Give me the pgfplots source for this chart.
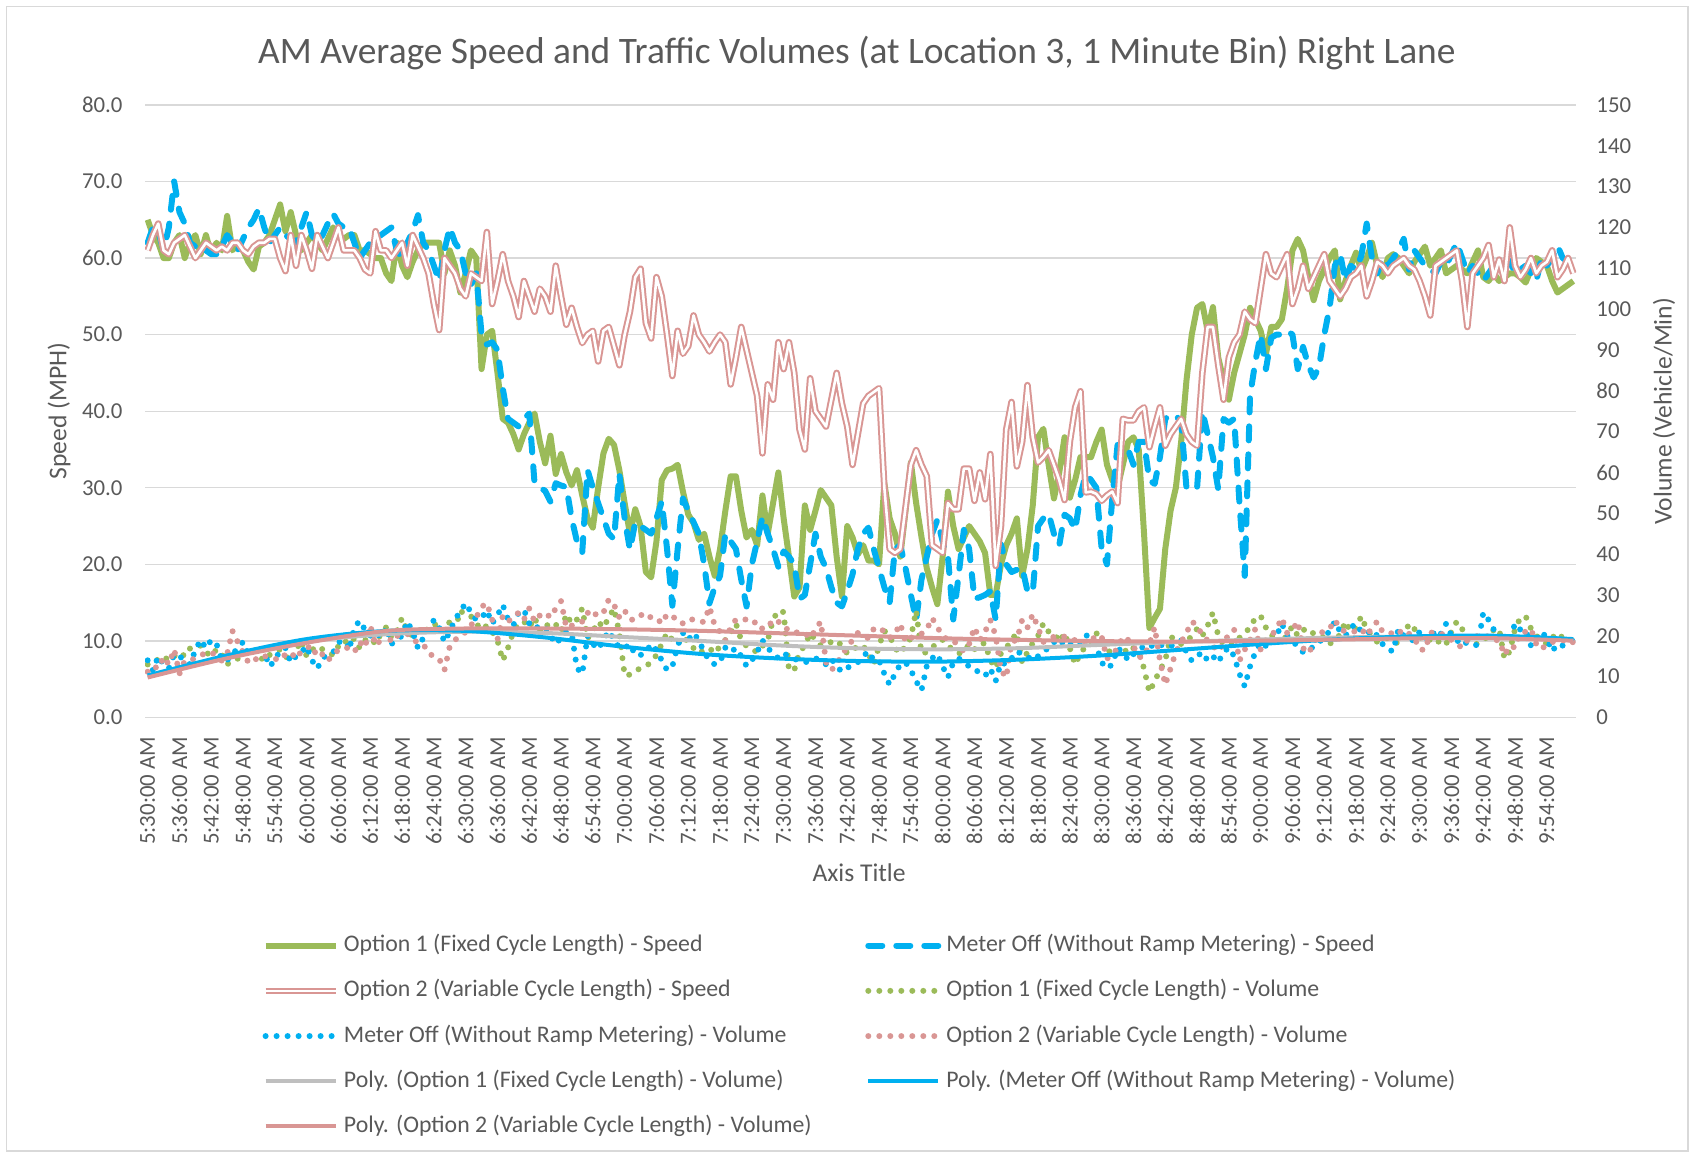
\documentclass[border=0pt]{standalone}
\usepackage{pgfplots}
\pgfplotsset{compat=1.18}
\usepackage{pgfplotstable}
\usepackage{fontspec}
\setmainfont{Carlito}
\definecolor{cgreen}{HTML}{9BBB59}
\definecolor{cblue}{HTML}{00B0F0}
\definecolor{cpink}{HTML}{D99694}
\definecolor{cgray}{HTML}{BFBFBF}
\definecolor{ctext}{HTML}{595959}
\definecolor{cgrid}{HTML}{D9D9D9}

% Option 1 (Fixed Cycle Length) - Speed, one value per minute from 5:30
\pgfplotstableread[row sep=\\]{v\\
65\\63\\62\\60\\60\\62\\ 63\\60\\62\\63\\60.5\\63\\ 60.5\\62\\61\\65.5\\61\\62\\ 61\\59.5\\58.5\\61.5\\62\\63\\
65\\67\\63.5\\66\\63\\61\\ 62\\63\\62\\61\\62.5\\64\\ 63\\62.5\\63\\63\\61\\61\\ 60.5\\60\\60\\58\\57\\62\\
59\\57.5\\59.5\\61\\62\\62\\ 62\\62\\58\\61\\59\\55.5\\ 58\\61\\60\\45.5\\50\\50.5\\ 45\\39\\38.5\\37\\35\\37\\
38.5\\39.7\\36\\33.2\\36.8\\31.8\\ 34.4\\32\\30.3\\32.3\\29\\26\\ 24.8\\30\\34.5\\36.4\\35.6\\32.3\\ 28\\24\\27.2\\25\\19\\18.3\\
23\\31\\32.3\\32.5\\33\\29.5\\ 26.5\\25.4\\23.2\\24\\21\\18.5\\ 22\\27\\31.5\\31.5\\27\\23.5\\ 24.5\\22.5\\29\\24\\28\\32\\
26\\21\\15.8\\17\\27.7\\24.5\\ 27\\29.7\\28.7\\27.7\\21\\15.8\\ 25\\23.5\\21.3\\22.5\\20.5\\20.5\\ 20\\30.6\\26\\24\\21\\27\\
33.3\\28\\23.6\\19.5\\17\\14.8\\ 21\\29.5\\25\\22\\23.5\\25\\ 24\\23\\21.5\\16\\16\\20\\ 22.5\\24\\26\\18.5\\22\\27.7\\
36.6\\37.7\\33\\28.6\\32\\36.6\\ 28.7\\31\\34\\34\\34\\36\\ 37.6\\33\\31\\30\\33\\36\\ 36.6\\35\\24\\11.7\\13\\14.2\\
22\\27\\30\\36\\44\\50\\ 53.5\\54\\50.5\\53.6\\47\\44\\ 41.5\\45\\47.5\\50\\53.5\\52\\ 50.5\\47.5\\51\\51\\52\\56\\
61\\62.5\\61\\57.5\\54.5\\57\\ 58.5\\60\\61\\54.6\\57\\59\\ 60.7\\58.3\\60\\62\\59\\57.5\\ 60\\60.5\\60\\59\\58\\59.5\\
60.5\\61.5\\59\\60\\61\\58\\ 58.5\\59\\58.5\\58\\59.5\\61\\ 57.5\\57\\58\\57\\57.5\\58\\ 58\\57.5\\56.8\\58.5\\60\\59.5\\
59\\57\\55.5\\56\\56.5\\57\\
}\gsp

% Meter Off (Without Ramp Metering) - Speed
\pgfplotstableread[row sep=\\]{v\\
62\\64\\63.5\\61\\64\\70\\ 66\\64.5\\62\\61.5\\62\\61\\ 60.5\\60.5\\61.5\\63\\62\\61\\ 62.5\\64\\65\\66.5\\64\\62\\
63\\64\\63\\62.5\\62\\64\\ 66\\63\\62\\63\\64.5\\65.8\\ 64.5\\64\\64\\62\\60\\61\\ 62\\62.5\\63\\63.5\\64\\61\\
60\\62\\63.5\\65.6\\62\\61\\ 59\\57\\61\\64\\62\\61\\ 58\\56.5\\58\\50\\48.7\\49\\ 48\\43\\39\\38.5\\38\\39\\
39.7\\30.6\\30\\29.6\\28.2\\30.6\\ 30.3\\30.1\\26\\23\\21.6\\32.3\\ 30\\28\\26\\24\\23.3\\31.8\\ 26\\21.9\\25.5\\25\\24.5\\24\\
26\\28.2\\22\\14.6\\22\\28.6\\ 27\\25.5\\24\\20\\14.9\\17\\ 18.5\\24\\23\\22\\18\\14.5\\ 20\\23\\26.2\\24\\22\\19.7\\
21.7\\21\\20\\15.5\\16\\20\\ 24\\21\\19.5\\17\\15\\14.5\\ 16.5\\18.7\\22\\24\\24.8\\22\\ 19.5\\17\\15\\22\\22.5\\19.5\\
16\\12.7\\18\\21\\24\\25.8\\ 23\\21\\12.8\\18.5\\24.5\\22\\ 15.5\\15.7\\16\\16.5\\12.8\\22.6\\ 20\\19\\19.3\\19.6\\16.5\\16.3\\
25\\26\\26.6\\24\\22.5\\26.5\\ 26\\24.5\\29\\31.8\\31\\30\\ 22\\20\\28.5\\35.6\\35.5\\35\\ 33\\36\\36\\31\\30.5\\34\\
39\\39.5\\39.5\\38.5\\30\\29.8\\ 29.9\\40\\37\\34\\29.8\\39\\ 38.5\\39\\28\\18.5\\42\\46.5\\ 50\\45.5\\49.6\\50\\50\\50.5\\
50\\45.5\\48.4\\46\\44.4\\45.7\\ 50\\53.5\\59\\60.5\\57\\59\\ 58.5\\60.3\\64.5\\60\\58\\60\\ 59\\60\\61\\62.5\\58.5\\61\\
60\\59\\58.5\\58\\59.5\\59\\ 60.5\\62\\60\\58\\59\\58\\ 57\\58\\59\\58.5\\59\\59.6\\ 58\\58.5\\59\\58\\57\\60\\
59\\60\\61.6\\60\\59.5\\60.5\\
}\bsp

% Option 2 (Variable Cycle Length) - Speed
\pgfplotstableread[row sep=\\]{v\\
61\\63\\64.5\\61\\60.5\\62\\ 62.5\\63\\61.5\\60\\61\\62\\ 61.5\\61\\61.5\\61\\62\\62\\ 61\\60.5\\61.5\\62\\62\\62.5\\
62.5\\60\\58.3\\63\\59\\63\\ 61\\58.6\\63\\61.5\\60\\62\\ 64\\61\\61\\61\\60\\58.5\\ 58\\63.5\\61\\61\\60\\61\\
62\\59\\63\\61.5\\60\\58\\ 54\\50.6\\60\\59\\58\\56\\ 55\\58\\57.5\\57\\63.4\\54\\ 57\\60.5\\57\\55\\52.3\\57\\
55\\53\\56\\55\\53\\59\\ 55\\51.3\\53.5\\51\\48.9\\50\\ 50.5\\46.5\\50.5\\51\\48.5\\46\\ 50\\53\\57.5\\58.6\\51.5\\49.5\\
57.5\\55\\50\\44.6\\50.5\\47.5\\ 48.5\\52.5\\50\\49\\47.8\\49\\ 50\\49\\43.5\\47\\51\\48\\ 45\\42\\34.5\\43.5\\41.5\\49\\
45.5\\49\\45\\37.6\\35\\44.3\\ 40\\39\\38\\41.5\\45\\41\\ 38\\33\\37\\41\\42\\42.5\\ 43\\30\\22\\21.5\\22\\27.5\\
33\\34.9\\33\\31.5\\22.5\\22\\ 21.5\\28\\27.2\\27.2\\32.5\\32.5\\ 28.3\\32\\28.5\\34.4\\19.8\\25\\ 37.6\\41.2\\32.8\\36\\43.4\\36.6\\
33.3\\34\\34.9\\33\\31\\28.4\\ 36\\40.5\\42.6\\29.4\\29.5\\29.2\\ 28.3\\29\\29.5\\28\\39\\38.8\\ 38.8\\40\\40.5\\35.3\\38\\40.5\\
35.5\\37\\38\\39\\37\\36\\ 35.5\\45\\51\\51\\46\\41.5\\ 47\\49\\50\\53\\52\\51.5\\ 56\\60.5\\58\\57.5\\59\\60.5\\
54\\56\\59\\56\\57.5\\59\\ 60.5\\57\\56\\55\\56\\57.5\\ 58\\59\\55\\57\\59.5\\59\\ 58\\59\\59.5\\60\\59\\58.5\\
57\\55\\52.5\\59\\59.5\\60\\ 60.5\\61\\57\\51\\58\\59\\ 60\\61.7\\57.5\\59.8\\57\\64\\ 59\\57.5\\58.5\\60\\58\\59\\
59.5\\61\\57.5\\58.5\\60\\58\\
}\psp

% Option 1 (Fixed Cycle Length) - Volume
\pgfplotstableread[row sep=\\]{v\\
13\\14\\14.1\\15\\13.9\\15\\ 16\\15\\16.9\\17\\17.6\\16\\ 15\\16.7\\15.5\\13\\14\\14.4\\ 15.5\\16\\17\\15\\13.9\\15.3\\
16\\16.7\\15\\13.9\\16.5\\18.9\\ 15\\16.5\\17.5\\16.7\\16\\15.3\\ 17.5\\18.9\\18\\19.4\\17\\18.9\\ 19.5\\18\\20.5\\22.1\\19.5\\21\\
24.4\\21\\20\\21.5\\20.5\\22\\ 23\\22\\21\\23.5\\21.5\\26.2\\ 25\\24.8\\23\\21.5\\22.5\\21\\ 18.9\\13.9\\17.1\\21\\23\\23.5\\
22\\24.5\\21.3\\23\\22\\22.8\\ 21\\25.3\\23\\24\\26.7\\19.4\\ 21\\23.5\\22\\24.5\\26.7\\20.7\\ 10.3\\10.5\\11.5\\12\\12.6\\13.5\\
15.3\\18\\20.7\\19\\18\\19.8\\ 18.5\\17\\15.7\\16.5\\17\\15.7\\ 17.5\\19\\20.7\\23\\18.9\\17.5\\ 16.7\\16\\17.5\\18.9\\24\\26.2\\
25.8\\11.6\\11.6\\16\\17.6\\20.7\\ 19\\17.6\\18\\18.5\\18.9\\17.5\\ 15.7\\16.5\\17.5\\17.6\\15.5\\13\\ 17.6\\21.2\\20\\17\\15.7\\17.5\\
19.5\\26.2\\15.7\\16\\17\\18.5\\ 19\\17.6\\16.5\\15.7\\16\\18\\ 16.7\\18\\18.2\\14\\12.1\\15.7\\ 17\\19\\20.7\\13.5\\16\\18.2\\
20\\23\\21\\20.7\\18.5\\20.7\\ 17\\13\\15.7\\17.5\\18.5\\20.7\\ 18.5\\17\\15.2\\16.5\\17\\15.7\\ 17\\16\\12\\6.2\\8.9\\11.6\\
14\\19.8\\19\\18\\18.5\\20\\ 21.7\\20\\22.5\\25.7\\20\\18\\ 17.6\\18\\19.5\\20.7\\22\\24.4\\ 24.9\\22\\20\\20.2\\18\\20.5\\
22.3\\20\\21.4\\21.8\\20.5\\20.3\\ 19.5\\18\\19\\20.3\\23.5\\21\\ 22\\24.8\\21.5\\20\\18.5\\19\\ 19.5\\18.9\\18\\20\\23\\21.7\\
19.5\\20\\18.9\\18\\19\\18\\ 21\\23.5\\21.7\\19.5\\18\\18\\ 19\\20\\21.5\\21.7\\14.4\\16.2\\ 21.7\\24.4\\24.8\\21.8\\20\\19\\
18\\19.5\\20.7\\19.5\\18.9\\19\\
}\gvol

% Meter Off (Without Ramp Metering) - Volume
\pgfplotstableread[row sep=\\]{v\\
14\\11.5\\15\\13\\12\\15.5\\ 15\\14\\13\\16.5\\19\\17\\ 19\\18\\14\\14\\15.5\\17\\ 18.5\\15.5\\16\\17.5\\16\\12.5\\
14\\16.5\\17\\13.5\\15\\16\\ 17.5\\14\\12\\14.5\\15.5\\16\\ 18\\20.5\\16.5\\22\\23.7\\21.5\\ 20\\21\\19.5\\22\\18\\19\\
20\\23.5\\21\\17\\19.5\\21\\ 23.9\\22\\18.5\\21\\24\\26\\ 28\\25.7\\23.9\\24.4\\26.2\\23\\ 25\\27.6\\24\\22.6\\25.7\\26.4\\
23\\21.7\\22.5\\22.1\\20\\18\\ 19.5\\21\\20.7\\12.1\\10.7\\20\\ 18\\16.7\\19\\21.2\\19\\17.1\\ 17\\18\\15.3\\15.3\\16\\18\\
16.5\\14\\11.6\\12.5\\17.6\\20.7\\ 19\\20.7\\18.9\\16\\13.9\\13\\ 13.5\\17.1\\16\\17\\15\\12.6\\ 14\\16\\18.9\\17\\15.7\\14.5\\
15.7\\15\\14.4\\13.8\\13.5\\13.9\\ 14.5\\14\\13\\14.4\\12.5\\11.2\\ 12.1\\13\\13.5\\15\\16.2\\14\\ 14\\10.7\\8\\10.7\\13\\13.5\\
11.6\\8.9\\6.6\\12.6\\14.5\\15.5\\ 12.5\\9.8\\13.5\\14.5\\13.5\\12.5\\ 12.1\\10.7\\10.2\\12\\8.9\\13.5\\ 13\\14.5\\16.2\\15.5\\14.9\\14\\
15\\16.2\\17\\18.5\\17.5\\19\\ 18\\17.5\\18.5\\20.3\\19\\17.5\\ 13.5\\12\\13\\17\\16\\14\\ 15.5\\16.5\\17.5\\18\\17\\17.6\\
18\\17.5\\18\\18.9\\16\\13.9\\ 15\\16\\13.9\\15\\13.5\\16\\ 17.1\\15\\10.7\\7.6\\12.5\\16\\ 18.5\\17.5\\17.6\\20\\23\\20\\
18.5\\17.6\\16\\16.2\\17.5\\18.5\\ 19.5\\21.2\\23.5\\21\\20\\22\\ 23\\21\\20.5\\21.5\\20\\18\\ 16.7\\16.2\\21.7\\20\\19\\18.9\\
21\\19.5\\19\\21.5\\20.5\\23\\ 20\\19\\17.6\\18.5\\18\\17.6\\ 25.7\\23.9\\21.5\\20\\19.5\\19.2\\ 23\\21.5\\21.5\\17.6\\19\\21\\
19.5\\16.2\\18\\17.6\\18.5\\18.9\\
}\bvol

% Option 2 (Variable Cycle Length) - Volume
\pgfplotstableread[row sep=\\]{v\\
11.2\\12.6\\12\\14.8\\13\\16.7\\ 10.7\\13.9\\14\\14.5\\15.3\\15.7\\ 16\\15\\13.9\\15.5\\21.2\\18.5\\ 16\\13.5\\14.5\\14\\15\\14.8\\
14.4\\14\\15.5\\16\\14.4\\16.2\\ 17\\17.6\\14.8\\15.5\\13.9\\15.5\\ 16.5\\17.1\\17\\16\\18.5\\17.1\\ 22.6\\17.6\\19\\21\\18.5\\20\\
19.9\\20.5\\19\\18.4\\18\\15.7\\ 15\\14.4\\11.6\\17.4\\19\\20\\ 20.9\\22.5\\24.5\\27.1\\28\\24\\ 19\\24.9\\23.5\\24.5\\25.7\\24\\
26.7\\23.5\\25\\25.7\\24.5\\26.7\\ 28.5\\22\\22.5\\23\\23.5\\25.7\\ 24.5\\26\\25.7\\28.9\\27.6\\24.5\\ 26.2\\24\\23.9\\25\\25.6\\24.4\\
24.4\\23\\25.3\\24.5\\24.4\\23\\ 24\\24\\23.5\\23.4\\27.1\\22.5\\ 21\\18.9\\22\\24\\24\\24\\ 23\\23.5\\21.7\\22\\24\\23.5\\
22\\21.5\\20.7\\21\\20.7\\19.4\\ 21.5\\23.5\\13.5\\11.6\\13\\15.5\\ 17.1\\19\\20.7\\20\\19.4\\21.7\\ 22.1\\21\\19.5\\20.5\\23\\18.5\\
19.5\\20\\20.5\\21.5\\24.4\\22.1\\ 20\\19\\18.9\\17.5\\16.2\\18\\ 22.1\\18.9\\21\\23.9\\20\\11.6\\ 9.8\\18.5\\19\\23.9\\22\\25.3\\
22\\18.5\\19\\19.8\\20\\19.8\\ 19.5\\18.9\\18.5\\18.5\\19.8\\19\\ 19.8\\14.4\\15.3\\17\\19.8\\19\\ 17.5\\14.8\\14.8\\18\\22.1\\14\\
8\\12\\16\\18.5\\20.7\\23.5\\ 22.6\\20\\18.9\\17.5\\16.2\\18\\ 20.5\\21.5\\13.9\\16.6\\19\\21.7\\ 16.6\\19\\20\\21.7\\24.4\\20.7\\
21.5\\23.5\\17\\15.7\\18\\20.7\\ 21\\21.7\\23.9\\21.7\\21\\21.2\\ 21\\21.7\\20\\22\\23.5\\21\\ 20.5\\20.7\\21.5\\20\\20.5\\19.5\\
16.7\\16.5\\20.7\\21\\20.7\\19.5\\ 19\\18\\17.1\\18.9\\19.5\\20\\ 19.5\\20\\19\\18.9\\15.3\\17.6\\ 17.1\\20.7\\21\\21.7\\18\\16.7\\
18\\18.5\\18.5\\19\\18\\18.5\\
}\pvol

\pgfplotsset{
  gspeed/.style={cgreen, line width=3pt, line join=round},
  bspeed/.style={cblue, line width=3pt, dash pattern=on 7pt off 7pt, line cap=round, line join=round},
  pspeed/.style={cpink, line width=1pt, double=white, double distance=1.3pt, line join=round},
  gvolst/.style={cgreen, line width=3pt, dash pattern=on 0pt off 5.5pt, line cap=round},
  bvolst/.style={cblue, line width=3pt, dash pattern=on 0pt off 5.5pt, line cap=round},
  pvolst/.style={cpink, line width=3pt, dash pattern=on 0pt off 5.5pt, line cap=round},
  gtrend/.style={cgray, line width=2pt},
  btrend/.style={cblue, line width=2pt},
  ptrend/.style={cpink, line width=2pt},
  tickfont/.style={font=\fontsize{11.4}{13}\selectfont, text=ctext},
}

\begin{document}
\begin{tikzpicture}
\useasboundingbox (0pt,0pt) rectangle (847pt,576.5pt);
\draw[cgrid, line width=0.7pt] (3.25pt,1pt) rectangle (844pt,573.25pt);

\begin{axis}[
  at={(72.5pt,217.75pt)}, anchor=south west,
  scale only axis, width=715.5pt, height=306.3pt,
  xmin=-0.5, xmax=269.5, ymin=0, ymax=80,
  axis line style={draw=none},
  major tick length=0pt,
  ymajorgrids, grid style={cgrid, line width=0.65pt},
  xtick={0,6,...,264},
  xticklabels={5:30:00 AM,5:36:00 AM,5:42:00 AM,5:48:00 AM,5:54:00 AM,6:00:00 AM,6:06:00 AM,6:12:00 AM,6:18:00 AM,6:24:00 AM,6:30:00 AM,6:36:00 AM,6:42:00 AM,6:48:00 AM,6:54:00 AM,7:00:00 AM,7:06:00 AM,7:12:00 AM,7:18:00 AM,7:24:00 AM,7:30:00 AM,7:36:00 AM,7:42:00 AM,7:48:00 AM,7:54:00 AM,8:00:00 AM,8:06:00 AM,8:12:00 AM,8:18:00 AM,8:24:00 AM,8:30:00 AM,8:36:00 AM,8:42:00 AM,8:48:00 AM,8:54:00 AM,9:00:00 AM,9:06:00 AM,9:12:00 AM,9:18:00 AM,9:24:00 AM,9:30:00 AM,9:36:00 AM,9:42:00 AM,9:48:00 AM,9:54:00 AM},
  xticklabel style={tickfont, rotate=90, anchor=east},
  xticklabel shift=6.2pt,
  ytick={0,10,...,80},
  yticklabel style={tickfont, /pgf/number format/.cd, fixed, fixed zerofill, precision=1, assume math mode=true},
  yticklabel shift=7.7pt,
  ylabel={Speed (MPH)},
  ylabel style={at={(axis description cs:-0.0601,0.5)}, anchor=center, font=\fontsize{12.8}{15}\selectfont, text=ctext},
  xlabel={Axis Title},
  xlabel style={at={(axis description cs:0.499,-0.253)}, anchor=center, font=\fontsize{12.8}{15}\selectfont, text=ctext},
  title={AM Average Speed and Traffic Volumes (at Location 3, 1 Minute Bin) Right Lane},
  title style={at={(axis description cs:0.4975,1.0647)}, anchor=center, font=\fontsize{18.7}{22}\selectfont, text=ctext},
]
\addplot[gspeed] table[x expr=\coordindex, y=v] {\gsp};
\addplot[bspeed] table[x expr=\coordindex, y=v] {\bsp};
\addplot[pspeed] table[x expr=\coordindex, y=v] {\psp};
\end{axis}

\begin{axis}[
  at={(72.5pt,217.75pt)}, anchor=south west,
  scale only axis, width=715.5pt, height=306.3pt,
  xmin=-0.5, xmax=269.5, ymin=0, ymax=150,
  hide x axis,
  axis y line*=right,
  axis line style={draw=none},
  major tick length=0pt,
  ytick={0,10,...,150},
  yticklabel style={tickfont, /pgf/number format/assume math mode=true},
  yticklabel shift=6.7pt,
  ylabel={Volume (Vehicle/Min)},
  ylabel style={at={(axis description cs:1.0615,0.5)}, anchor=center, font=\fontsize{12.8}{15}\selectfont, text=ctext},
  legend columns=2,
  legend cell align=left,
  legend image code/.code={\draw[#1] (0pt,0pt) -- (35pt,0pt);},
  legend style={at={(axis description cs:0.0817,-0.3522)}, anchor=north west, draw=none, fill=none, inner sep=0pt,
    font=\fontsize{11.9}{14}\selectfont, text=ctext,
    nodes={inner sep=0pt, text height=9pt, text depth=3pt},
    row sep=10.6pt,
    /tikz/every odd column/.append style={column sep=2.5pt}},
]
\addlegendimage{gspeed}
\addlegendentry{\makebox[260.7pt][l]{Option 1 (Fixed Cycle Length) - Speed}}
\addlegendimage{bspeed}
\addlegendentry{Meter Off (Without Ramp Metering) - Speed}
\addlegendimage{pspeed}
\addlegendentry{\makebox[260.7pt][l]{Option 2 (Variable Cycle Length) - Speed}}
\addplot[gvolst] table[x expr=\coordindex, y=v] {\gvol};
\addlegendentry{Option 1 (Fixed Cycle Length) - Volume}
\addplot[bvolst] table[x expr=\coordindex, y=v] {\bvol};
\addlegendentry{\makebox[260.7pt][l]{Meter Off (Without Ramp Metering) - Volume}}
\addplot[pvolst] table[x expr=\coordindex, y=v] {\pvol};
\addlegendentry{Option 2 (Variable Cycle Length) - Volume}
\addplot[gtrend, smooth] coordinates {(0,10) (15,14.8) (30,18.6) (45,20.4) (60,21) (75,20.7) (90,19.7) (105,18.7) (120,17.6) (135,16.9) (150,16.7) (165,17) (180,17.8) (195,18.5) (210,19.1) (225,19.6) (240,19.8) (255,19.7) (269,19)};
\addlegendentry{\makebox[260.7pt][l]{Poly. (Option 1 (Fixed Cycle Length) - Volume)}}
\addplot[btrend, smooth] coordinates {(0,10.3) (15,15.2) (30,19.2) (45,21.2) (60,21.2) (75,19.6) (90,17.3) (105,15.5) (120,14.4) (135,13.8) (150,13.7) (165,14.2) (180,15.2) (195,16.6) (210,18) (225,19.2) (240,19.9) (255,20) (269,19.2)};
\addlegendentry{Poly. (Meter Off (Without Ramp Metering) - Volume)}
\addplot[ptrend, smooth] coordinates {(0,9.8) (15,14.5) (30,18.3) (45,21.2) (60,21.8) (75,21.8) (90,21.6) (105,21.2) (120,20.6) (135,20) (150,19.4) (165,19) (180,18.7) (195,18.6) (210,18.8) (225,19.1) (240,19.4) (255,19.4) (269,18.8)};
\addlegendentry{\makebox[260.7pt][l]{Poly. (Option 2 (Variable Cycle Length) - Volume)}}
\end{axis}
\end{tikzpicture}
\end{document}
